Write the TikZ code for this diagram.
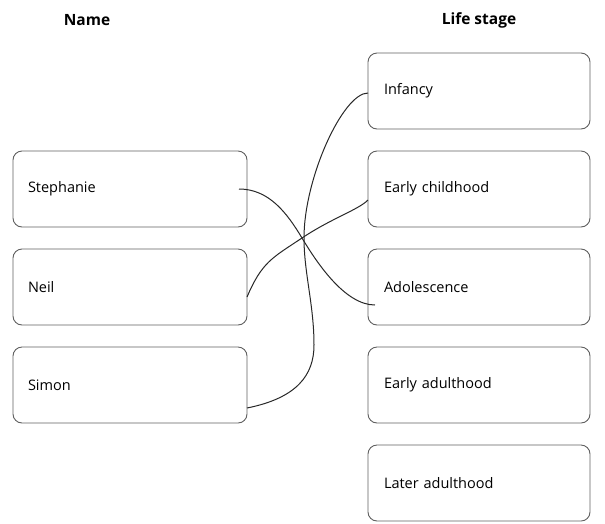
\documentclass[tikz,border=0pt]{standalone}
\usepackage{fontspec}
\setsansfont{Open Sans}
\usetikzlibrary{positioning}
\definecolor{boxcolor}{RGB}{95,95,95}
\definecolor{linkcolor}{RGB}{40,40,40}

\begin{document}
\begin{tikzpicture}[x=1pt,y=-1pt,node distance=22pt,outer sep=0pt,
stagebox/.style={
  draw=boxcolor,
  line width=0.9pt,
  rounded corners=9pt,
  minimum width=222pt,
  minimum height=76pt,
  text width=190pt,
  align=left,
  font={\sffamily\fontsize{14.5}{16}\selectfont}},
namebox/.style={stagebox,minimum width=234pt,text width=204pt},
heading/.style={font={\sffamily\bfseries\fontsize{15.5}{17}\selectfont}},
link/.style={draw=linkcolor,line width=1pt},
]
\useasboundingbox (0,0) rectangle (605,523);

\node[heading] (NAMEHEAD) at (87,20) {Name};
\node[heading] (STAGEHEAD) at (479,20) {Life stage};

\node[namebox] (STEPH) at (130,189) {Stephanie};
\node[namebox,below=of STEPH] (NEIL) {Neil};
\node[namebox,below=of NEIL] (SIMON) {Simon};

\node[stagebox] (INF) at (479,91) {Infancy};
\node[stagebox,below=of INF] (ECH) {Early childhood};
\node[stagebox,below=of ECH] (ADO) {Adolescence};
\node[stagebox,below=of ADO] (EAD) {Early adulthood};
\node[stagebox,below=of EAD] (LAD) {Later adulthood};

\coordinate (STEPHOUT) at ([xshift=-8pt]STEPH.east);
\coordinate (ADOIN) at ([xshift=7pt,yshift=-18pt]ADO.west);
\coordinate (NEILOUT) at ([yshift=-10pt]NEIL.east);
\coordinate (ECHIN) at ([yshift=-11pt]ECH.west);
\coordinate (SIMONOUT) at ([yshift=-23pt]SIMON.east);
\coordinate (INFIN) at ([yshift=-2pt]INF.west);

\draw[link] (STEPHOUT) .. controls +(30,0) and +(-15,-25) .. (302,238)
  .. controls +(15,25) and +(-30,0) .. (ADOIN);
\draw[link] (NEILOUT) .. controls +(15,-35) and +(-30,20) .. (302,238)
  .. controls +(30,-20) and +(-10,10) .. (ECHIN);
\draw[link] (SIMONOUT) .. controls +(50,-10) and +(0,30) .. (314,345)
  .. controls +(0,-40) and +(0,35) .. (304,238)
  .. controls +(0,-60) and +(-25,0) .. (INFIN);
\end{tikzpicture}
\end{document}
